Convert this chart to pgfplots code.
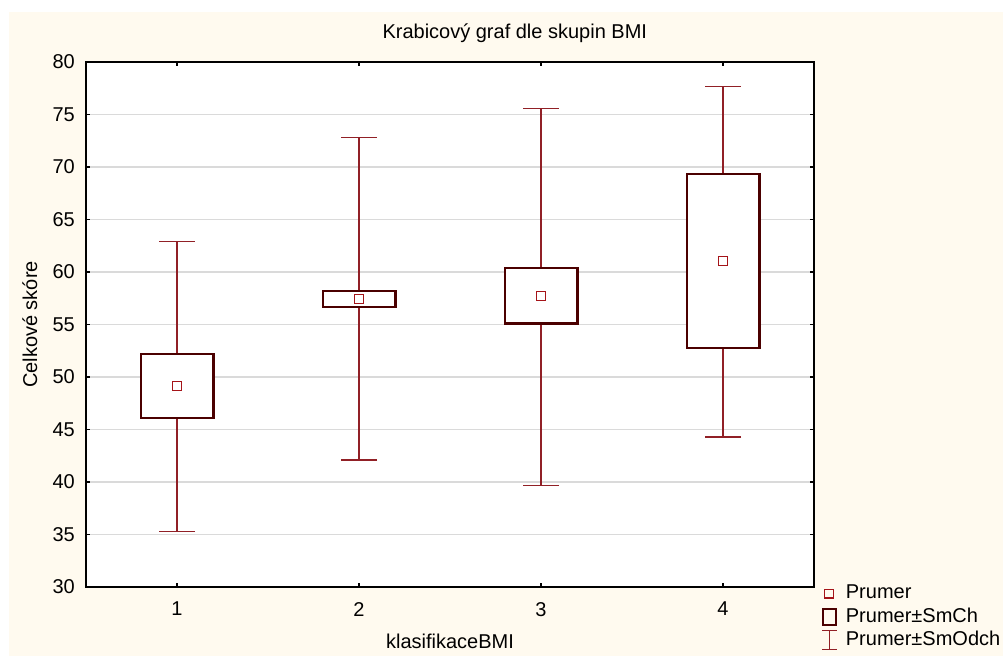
\documentclass[border=0pt]{standalone}
\usepackage{pgfplots}
\pgfplotsset{compat=1.18}
\usepackage{fontspec}
\setmainfont{Liberation Sans}
\definecolor{bgc}{RGB}{255,250,239}
\definecolor{boxc}{RGB}{75,0,0}
\definecolor{whc}{RGB}{145,32,38}
\definecolor{mc}{RGB}{165,20,25}
\definecolor{gridc}{RGB}{218,218,218}
\newcommand{\tf}{\fontsize{20}{23}\selectfont}
\begin{document}
\begin{tikzpicture}
\path[use as bounding box] (0,0) rectangle (1003pt,-656pt);
\fill[white] (0,0) rectangle (1003pt,-656pt);
\fill[bgc] (9pt,-12pt) rectangle (1003pt,-656pt);
\begin{axis}[
  at={(86pt,-587pt)}, anchor=south west,
  scale only axis, width=728pt, height=525pt,
  xmin=0.5, xmax=4.5, ymin=30, ymax=80,
  xtick={1,2,3,4}, ytick={30,35,...,80},
  ymajorgrids, grid style={gridc, line width=1.3pt},
  axis line style={black, line width=1.3pt},
  major tick style={black, line width=1.3pt},
  major tick length=4pt, tick align=inside,
  axis background/.style={fill=white},
  /pgf/number format/assume math mode=true,
  tick label style={font=\tf, inner sep=0pt},
  yticklabel style={xshift=-11pt},
  xticklabel style={yshift=-15pt},
  title={Krabicový graf dle skupin BMI},
  title style={at={(0.589,1.0343)}, anchor=base, inner sep=0pt, font=\tf},
  xlabel={klasifikaceBMI},
  xlabel style={at={(axis description cs:0.5,-0.118)}, anchor=base, inner sep=0pt, font=\tf},
  ylabel={Celkové skóre},
  ylabel style={at={(axis description cs:-0.0673,0.5)}, anchor=base, inner sep=0pt, font=\tf},
  legend style={at={(axis description cs:1.00549,0.0057)}, anchor=north west, draw=none, fill=none,
    font=\tf, inner sep=0pt, row sep=4.5pt, column sep=0pt,
    nodes={inner sep=0pt, text height=14.5pt, text depth=4.5pt}},
  legend cell align=left,
]
% whiskers: mean +- SD
\addplot[forget plot, draw=none, mark=none,
  error bars/.cd, y dir=both, y explicit,
  error bar style={draw=whc, line width=1.3pt},
  error mark=|, error mark options={draw=whc, line width=1.3pt, mark size=18pt}]
  coordinates {(1,49.1) +- (0,13.8) (2,57.45) +- (0,15.35) (3,57.65) +- (0,17.95) (4,61.0) +- (0,16.7)};
% boxes: mean +- SE
\addplot[forget plot, draw=boxc, line width=2.2pt, fill=white] coordinates {(0.8,46.1) (1.2,46.1) (1.2,52.2) (0.8,52.2)} -- cycle;
\addplot[forget plot, draw=boxc, line width=2.2pt, fill=white] coordinates {(1.8,56.7) (2.2,56.7) (2.2,58.2) (1.8,58.2)} -- cycle;
\addplot[forget plot, draw=boxc, line width=2.2pt, fill=white] coordinates {(2.8,55.1) (3.2,55.1) (3.2,60.4) (2.8,60.4)} -- cycle;
\addplot[forget plot, draw=boxc, line width=2.2pt, fill=white] coordinates {(3.8,52.8) (4.2,52.8) (4.2,69.3) (3.8,69.3)} -- cycle;
% means
\addplot[forget plot, only marks, mark=square, mark size=4.4pt, draw=mc, line width=1.2pt] coordinates {(1,49.15) (2,57.45) (3,57.7) (4,61.05)};
\addlegendimage{legend image code/.code={\path[draw=none,fill=none] (0,0) rectangle (27.7pt,0pt); \draw[overlay, mc, line width=1.2pt] (6.2pt,-4.3pt) rectangle (15pt,4.2pt);}}
\addlegendentry{Prumer}
\addlegendimage{legend image code/.code={\path[draw=none,fill=none] (0,0) rectangle (27.7pt,0pt); \draw[overlay, boxc, line width=1.8pt] (4.7pt,-7.6pt) rectangle (17.9pt,8.6pt);}}
\addlegendentry{Prumer±SmCh}
\addlegendimage{legend image code/.code={\path[draw=none,fill=none] (0,0) rectangle (27.7pt,0pt); \draw[overlay, whc, line width=1.3pt] (3.8pt,-8.9pt) -- (18.8pt,-8.9pt) (11.3pt,-8.9pt) -- (11.3pt,9.9pt) (3.8pt,9.9pt) -- (18.8pt,9.9pt);}}
\addlegendentry{Prumer±SmOdch}
\end{axis}
\end{tikzpicture}
\end{document}
